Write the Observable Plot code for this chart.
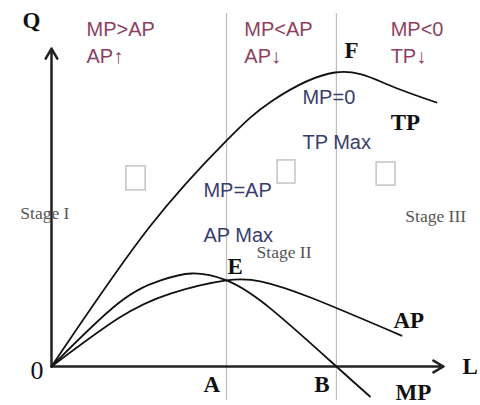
<!DOCTYPE html>
<html>
<head>
<meta charset="utf-8">
<script src="https://cdn.jsdelivr.net/npm/d3@7"></script>
<script src="https://cdn.jsdelivr.net/npm/@observablehq/plot@0.6"></script>
<style>
  html, body { margin: 0; padding: 0; background: #fff; }
  #chart { width: 480px; height: 405px; }
</style>
</head>
<body>
<div id="chart"></div>
<script>
// Labour (L) and output (Q) values
const tpL = [0, 28, 50, 63, 81, 96, 110];
const tpQ = [0, 46.5, 75.3, 88.5, 98, 94, 88];

const apL = [0, 19, 34, 50, 60, 74, 100];
const apQ = [0, 16, 24.3, 28.7, 28.3, 23, 10.3];

const mpL = [0, 19, 31, 40, 50, 62.6, 81.4, 91];
const mpQ = [0, 21, 28.6, 31, 28.7, 19.3, 0, -10];

// Stage boundaries: A (AP max, MP = AP) and B (TP max, MP = 0)
const stageL = [50, 81.4];
const axisMaxL = 112;
const axisMaxQ = 106;

// Annotations
const redText = ["MP>AP", "AP\u2191", "MP<AP", "AP\u2193", "MP<0", "TP\u2193"];
const redL = [10, 10, 55.1, 55.1, 96.9, 96.9];
const redQ = [112.3, 103.3, 112.3, 103.3, 112.3, 103.3];

const blueText = ["MP=0", "TP Max", "MP=AP", "AP Max"];
const blueL = [71.7, 71.7, 43.4, 43.4];
const blueQ = [89.7, 74.7, 58.7, 43.7];

const boldText = ["Q", "F", "TP", "E", "AP", "MP", "A", "B", "L"];
const boldL = [-8.3, 83.7, 96.9, 50.3, 97.7, 98.3, 43.4, 75.1, 117.4];
const boldQ = [115.3, 105.3, 81.3, 33.3, 15.3, -8.6, -6, -6, 0];

const stageText = ["Stage I", "Stage II", "Stage III"];
const stageTL = [-8.9, 58.6, 101.1];
const stageTQ = [51, 38, 50];

const boxL1 = [21.4, 64.6, 92.9];
const boxL2 = [26.9, 69.7, 98.3];
const boxQ1 = [58.7, 61, 60.3];
const boxQ2 = [66.7, 68.7, 68];

const zip = (a, b, extra = {}) => a.map((v, i) => ({L: v, Q: b[i], ...Object.fromEntries(Object.entries(extra).map(([k, arr]) => [k, arr[i]]))}));

const tp = zip(tpL, tpQ);
const ap = zip(apL, apQ);
const mp = zip(mpL, mpQ);
const red = zip(redL, redQ, {t: redText});
const blue = zip(blueL, blueQ, {t: blueText});
const bold = zip(boldL, boldQ, {t: boldText});
const stages = zip(stageTL, stageTQ, {t: stageText});
const boxes = boxL1.map((v, i) => ({x1: v, x2: boxL2[i], y1: boxQ1[i], y2: boxQ2[i]}));

const W = 480, H = 405;
const ox = 51, oy = 366, pxL = 3.5, pxQ = 3;

const chart = Plot.plot({
  width: W,
  height: H,
  margin: 0,
  style: {background: "#fff", overflow: "visible"},
  x: {domain: [-ox / pxL, (W - ox) / pxL], axis: null},
  y: {domain: [-(H - oy) / pxQ, oy / pxQ], axis: null},
  marks: [
    Plot.ruleX(stageL, {y1: -11.3, y2: 117.7, stroke: "#bdbdbd", strokeWidth: 1.2}),
    Plot.rect(boxes, {x1: "x1", x2: "x2", y1: "y1", y2: "y2", fill: "none", stroke: "#c4c4c4", strokeWidth: 1.5}),
    Plot.arrow([{x1: 0, y1: 0, x2: axisMaxL, y2: 0}], {x1: "x1", y1: "y1", x2: "x2", y2: "y2", stroke: "#222", strokeWidth: 2.5, headLength: 7}),
    Plot.arrow([{x1: 0, y1: 0, x2: 0, y2: axisMaxQ}], {x1: "x1", y1: "y1", x2: "x2", y2: "y2", stroke: "#222", strokeWidth: 2.5, headLength: 7}),
    Plot.line(tp, {x: "L", y: "Q", curve: "natural", stroke: "#111", strokeWidth: 1.8}),
    Plot.line(ap, {x: "L", y: "Q", curve: "natural", stroke: "#111", strokeWidth: 1.8}),
    Plot.line(mp, {x: "L", y: "Q", curve: "natural", stroke: "#111", strokeWidth: 1.8}),
    Plot.text(red, {x: "L", y: "Q", text: "t", textAnchor: "start", fill: "#8e3f5f", fontSize: 20, fontFamily: "Liberation Sans, Arial, sans-serif"}),
    Plot.text(blue, {x: "L", y: "Q", text: "t", textAnchor: "start", fill: "#383e6c", fontSize: 20, fontFamily: "Liberation Sans, Arial, sans-serif"}),
    Plot.text(bold, {x: "L", y: "Q", text: "t", textAnchor: "start", fill: "#111", fontSize: 23, fontWeight: "bold", fontFamily: "Liberation Serif, Times New Roman, serif"}),
    Plot.text([{L: -6, Q: -1.3, t: "0"}], {x: "L", y: "Q", text: "t", textAnchor: "start", fill: "#111", fontSize: 26, fontFamily: "Liberation Serif, Times New Roman, serif"}),
    Plot.text(stages, {x: "L", y: "Q", text: "t", textAnchor: "start", fill: "#555", fontSize: 17.5, fontFamily: "Liberation Serif, Times New Roman, serif"})
  ]
});
document.getElementById("chart").appendChild(chart);
</script>
</body>
</html>
